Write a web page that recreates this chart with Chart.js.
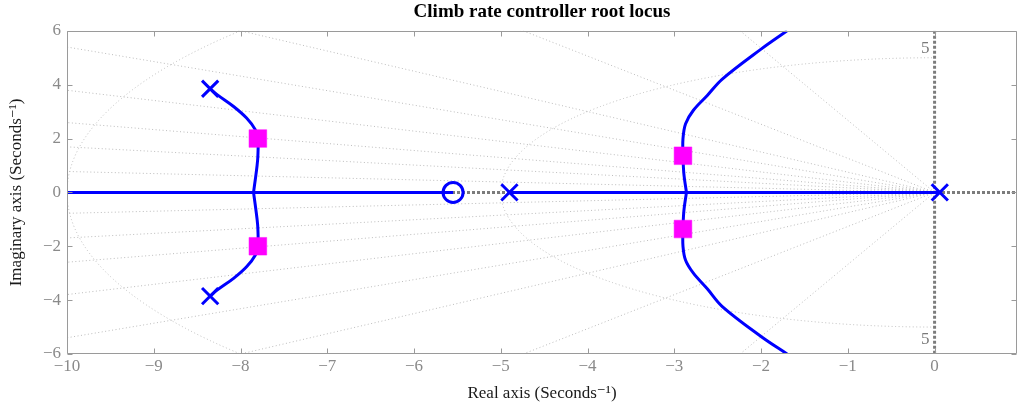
<!DOCTYPE html>
<html>
<head>
<meta charset="utf-8">
<script src="https://cdn.jsdelivr.net/npm/chart.js@4.4.1/dist/chart.umd.min.js"></script>
<style>
html, body { margin: 0; padding: 0; background: #fff; }
</style>
</head>
<body>
<canvas id="grafico" width="1017" height="407"></canvas>
<script>
// open loop poles and zero
var polesRe = [-8.35, -8.35, -4.9, 0.06];
var polesIm = [3.85, -3.85, 0, 0];
var zerosRe = [-5.55];
var zerosIm = [0];

// closed loop poles at the chosen gain
var gainRe = [-7.8, -7.8, -2.9, -2.9];
var gainIm = [2.0, -2.0, 1.36, -1.36];

// locus on the real axis
var realLeftRe = [-10, -5.55];
var realLeftIm = [0, 0];
var realRightRe = [-4.9, 0.06];
var realRightIm = [0, 0];

// complex branches
var leftUpRe = [-8.35, -8.27, -8.08, -7.93, -7.83, -7.80, -7.80, -7.81, -7.83, -7.85];
var leftUpIm = [3.85, 3.63, 3.19, 2.76, 2.33, 2.00, 1.34, 0.97, 0.47, 0];
var leftDownRe = [-8.35, -8.27, -8.08, -7.93, -7.83, -7.80, -7.80, -7.81, -7.83, -7.85];
var leftDownIm = [-3.85, -3.63, -3.19, -2.76, -2.33, -2.00, -1.34, -0.97, -0.47, 0];
var rightUpRe = [-2.86, -2.89, -2.90, -2.90, -2.87, -2.78, -2.62, -2.45, -2.00, -1.70];
var rightUpIm = [0, 0.70, 1.36, 2.00, 2.55, 3.05, 3.60, 4.20, 5.32, 6.00];
var rightDownRe = [-2.86, -2.89, -2.90, -2.90, -2.87, -2.78, -2.62, -2.45, -2.00, -1.70];
var rightDownIm = [0, -0.70, -1.36, -2.00, -2.52, -3.00, -3.58, -4.23, -5.35, -6.00];

// grid: damping ratios and natural frequencies
var dampingZeta = [0.35, 0.62, 0.80, 0.88, 0.935, 0.968, 0.986, 0.997];
var wnCircles = [5, 10];
var wnLabels = [5];

var xTicks = [-10, -9, -8, -7, -6, -5, -4, -3, -2, -1, 0];
var yTicks = [-6, -4, -2, 0, 2, 4, 6];

var serif = "'Liberation Serif', 'DejaVu Serif', serif";
var blue = '#0000ff';

function pts(re, im) {
    var p = [];
    for (var i = 0; i < re.length; i++) {
        p.push({x: re[i], y: im[i]});
    }
    return p;
}

function minus(v) {
    return v < 0 ? '\u2212' + Math.abs(v) : String(v);
}

function branch(re, im) {
    return {
        data: pts(re, im),
        showLine: true,
        borderColor: blue,
        borderWidth: 3,
        pointRadius: 0,
        tension: 0.35,
        order: 2
    };
}

var rootGrid = {
    id: 'rootGrid',
    beforeDatasetsDraw: function (chart) {
        var ctx = chart.ctx;
        var a = chart.chartArea;
        var sx = chart.scales.x;
        var sy = chart.scales.y;
        var x0 = sx.getPixelForValue(0);
        var y0 = sy.getPixelForValue(0);

        ctx.save();
        ctx.beginPath();
        ctx.rect(a.left, a.top, a.right - a.left, a.bottom - a.top);
        ctx.clip();

        ctx.strokeStyle = '#bcbcbc';
        ctx.lineWidth = 1;
        ctx.setLineDash([1, 2.5]);
        for (var i = 0; i < dampingZeta.length; i++) {
            var z = dampingZeta[i];
            var s = Math.sqrt(1 - z * z);
            ctx.beginPath();
            ctx.moveTo(x0, y0);
            ctx.lineTo(sx.getPixelForValue(-40 * z), sy.getPixelForValue(40 * s));
            ctx.moveTo(x0, y0);
            ctx.lineTo(sx.getPixelForValue(-40 * z), sy.getPixelForValue(-40 * s));
            ctx.stroke();
        }
        for (var j = 0; j < wnCircles.length; j++) {
            var w = wnCircles[j];
            var rx = x0 - sx.getPixelForValue(-w);
            var ry = sy.getPixelForValue(-w) - y0;
            ctx.beginPath();
            ctx.ellipse(x0, y0, rx, ry, 0, Math.PI / 2, Math.PI * 1.5);
            ctx.stroke();
        }

        // real and imaginary axes
        ctx.strokeStyle = '#7c7c7c';
        ctx.lineWidth = 3;
        ctx.setLineDash([3, 2]);
        ctx.beginPath();
        ctx.moveTo(a.left, y0);
        ctx.lineTo(a.right, y0);
        ctx.moveTo(x0, a.top);
        ctx.lineTo(x0, a.bottom);
        ctx.stroke();
        ctx.restore();

        // natural frequency labels
        ctx.save();
        ctx.fillStyle = '#7a7a7a';
        ctx.font = '17px ' + serif;
        ctx.textAlign = 'right';
        ctx.textBaseline = 'alphabetic';
        for (var k = 0; k < wnLabels.length; k++) {
            ctx.fillText(String(wnLabels[k]), x0 - 5, sy.getPixelForValue(wnLabels[k]) - 5);
            ctx.fillText(String(wnLabels[k]), x0 - 5, sy.getPixelForValue(-wnLabels[k]) + 16.5);
        }
        ctx.restore();
    },
    afterDraw: function (chart) {
        var ctx = chart.ctx;
        var a = chart.chartArea;
        var sx = chart.scales.x;
        var sy = chart.scales.y;
        var L = Math.round(a.left) + 0.5, R = Math.round(a.right) - 0.5;
        var T = Math.round(a.top) + 0.5, B = Math.round(a.bottom) - 0.5;
        ctx.save();
        ctx.strokeStyle = '#9a9a9a';
        ctx.lineWidth = 1;
        ctx.beginPath();
        ctx.rect(L, T, R - L, B - T);
        for (var i = 0; i < xTicks.length; i++) {
            var px = Math.round(sx.getPixelForValue(xTicks[i])) + 0.5;
            ctx.moveTo(px, B); ctx.lineTo(px, B - 5);
            ctx.moveTo(px, T); ctx.lineTo(px, T + 5);
        }
        for (var j = 0; j < yTicks.length; j++) {
            var py = Math.round(sy.getPixelForValue(yTicks[j])) + 0.5;
            ctx.moveTo(L, py); ctx.lineTo(L + 5, py);
            ctx.moveTo(R, py); ctx.lineTo(R - 5, py);
        }
        ctx.stroke();
        ctx.restore();
    }
};

var ctx = document.getElementById('grafico');
var chart = new Chart(ctx, {
    type: 'scatter',
    data: {
        datasets: [
            {
                data: pts(polesRe, polesIm),
                pointStyle: 'crossRot',
                pointRadius: 11.5,
                borderColor: blue,
                borderWidth: 3,
                order: 0
            },
            {
                data: pts(zerosRe, zerosIm),
                pointStyle: 'circle',
                pointRadius: 10,
                borderColor: blue,
                backgroundColor: 'rgba(0,0,0,0)',
                borderWidth: 3,
                order: 0
            },
            {
                data: pts(gainRe, gainIm),
                pointStyle: 'rect',
                pointRadius: 12.5,
                borderColor: '#ff00ff',
                backgroundColor: '#ff00ff',
                borderWidth: 0.5,
                order: 1
            },
            branch(realLeftRe, realLeftIm),
            branch(realRightRe, realRightIm),
            branch(leftUpRe, leftUpIm),
            branch(leftDownRe, leftDownIm),
            branch(rightUpRe, rightUpIm),
            branch(rightDownRe, rightDownIm)
        ]
    },
    options: {
        responsive: false,
        animation: false,
        devicePixelRatio: 1,
        layout: { padding: 0, autoPadding: false },
        plugins: {
            legend: { display: false },
            tooltip: { enabled: false },
            title: {
                display: true,
                fullSize: false,
                text: 'Climb rate controller root locus',
                color: '#000',
                font: { family: serif, size: 19, weight: 'bold' },
                padding: { top: 1, bottom: 7 }
            }
        },
        scales: {
            x: {
                type: 'linear',
                min: -10,
                max: 0.95,
                grid: { display: false, drawTicks: false },
                border: { display: false },
                afterBuildTicks: function (scale) {
                    scale.ticks = xTicks.map(function (v) { return {value: v}; });
                },
                afterFit: function (scale) {
                    scale.height = 53;
                    scale.paddingLeft = 0;
                    scale.paddingRight = 0;
                },
                ticks: {
                    color: '#8a8a8a',
                    font: { family: serif, size: 17 },
                    padding: 2,
                    maxRotation: 0,
                    autoSkip: false,
                    callback: minus
                },
                title: {
                    display: true,
                    text: 'Real axis (Seconds\u207B\u00B9)',
                    color: '#1a1a1a',
                    font: { family: serif, size: 17 },
                    padding: { top: 0, bottom: 3 }
                }
            },
            y: {
                type: 'linear',
                min: -6,
                max: 6,
                grid: { display: false, drawTicks: false },
                border: { display: false },
                afterBuildTicks: function (scale) {
                    scale.ticks = yTicks.map(function (v) { return {value: v}; });
                },
                afterFit: function (scale) {
                    scale.width = 67;
                    scale.paddingTop = 0;
                    scale.paddingBottom = 0;
                },
                ticks: {
                    color: '#8a8a8a',
                    font: { family: serif, size: 17 },
                    padding: 6,
                    autoSkip: false,
                    callback: minus
                },
                title: {
                    display: true,
                    text: 'Imaginary axis (Seconds\u207B\u00B9)',
                    color: '#1a1a1a',
                    font: { family: serif, size: 17 },
                    padding: { top: 6, bottom: 0 }
                }
            }
        }
    },
    plugins: [rootGrid]
});
</script>
</body>
</html>
